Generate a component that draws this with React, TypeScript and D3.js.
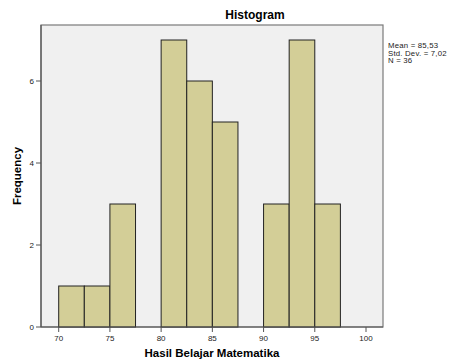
import React from "react";
import * as d3 from "d3";

const binStarts = [70, 72.5, 75, 77.5, 80, 82.5, 85, 87.5, 90, 92.5, 95];
const counts = [1, 1, 3, 0, 7, 6, 5, 0, 3, 7, 3];
const binWidth = 2.5;
const xTicks = [70, 75, 80, 85, 90, 95, 100];
const yTicks = [0, 2, 4, 6];
const legendLines = ["Mean = 85,53", "Std. Dev. = 7,02", "N = 36"];

const W = 449;
const H = 362;
const left = 41;
const right = 383;
const top = 25;
const bottom = 327;

export default function App() {
  const x = d3.scaleLinear().domain([70, 100]).range([58.7, 366]);
  const y = d3.scaleLinear().domain([0, 6]).range([bottom, 81]);
  const font = "'Liberation Sans', Arial, sans-serif";

  return (
    <svg
      width={W}
      height={H}
      style={{ position: "absolute", left: 0, top: 0, background: "#fff" }}
      fontFamily={font}
    >
      <text x={255} y={19} textAnchor="middle" fontSize={12} fontWeight="bold" fill="#000">
        Histogram
      </text>
      <rect x={left} y={top} width={right - left} height={bottom - top} fill="#f0f0f0" stroke="#7a7a7a" strokeWidth={1.2} />
      {binStarts.map((b, i) =>
        counts[i] > 0 ? (
          <rect
            key={i}
            x={x(b)}
            y={y(counts[i])}
            width={x(b + binWidth) - x(b)}
            height={bottom - y(counts[i])}
            fill="#d3ce97"
            stroke="#222"
            strokeWidth={1}
          />
        ) : null
      )}
      <line x1={left} x2={left} y1={top} y2={bottom} stroke="#555" strokeWidth={1.2} />
      <line x1={left} x2={right} y1={bottom} y2={bottom} stroke="#555" strokeWidth={1.2} />
      {yTicks.map((t) => (
        <g key={t}>
          <line x1={left - 5} x2={left} y1={y(t)} y2={y(t)} stroke="#555" />
          <text x={left - 7} y={y(t) + 3} textAnchor="end" fontSize={8} fill="#222">
            {t}
          </text>
        </g>
      ))}
      {xTicks.map((t) => (
        <g key={t}>
          <line x1={x(t)} x2={x(t)} y1={bottom} y2={bottom + 5} stroke="#555" />
          <text x={x(t)} y={bottom + 14} textAnchor="middle" fontSize={8} fill="#222">
            {t}
          </text>
        </g>
      ))}
      <text x={212} y={357} textAnchor="middle" fontSize={11.5} fontWeight="bold" fill="#000">
        Hasil Belajar Matematika
      </text>
      <text
        transform={`translate(21,${(top + bottom) / 2}) rotate(-90)`}
        textAnchor="middle"
        fontSize={11.5}
        fontWeight="bold"
        fill="#000"
      >
        Frequency
      </text>
      {legendLines.map((l, i) => (
        <text key={i} x={388} y={48 + i * 7.5} fontSize={7.8} letterSpacing={0.2} fill="#222">
          {l}
        </text>
      ))}
    </svg>
  );
}
